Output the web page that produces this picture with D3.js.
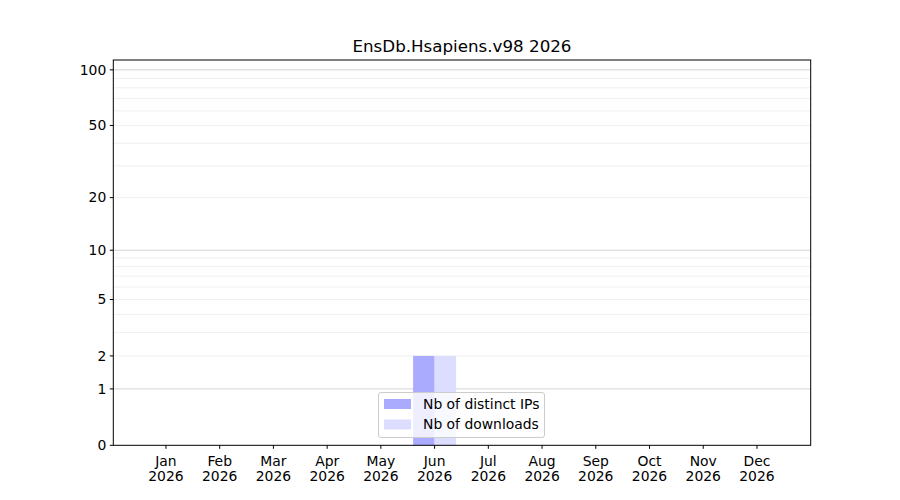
<!DOCTYPE html>
<html><head><meta charset="utf-8">
<script src="https://cdn.jsdelivr.net/npm/d3@7"></script>
<style>body{margin:0;background:#fff}svg{display:block}text{font-family:"DejaVu Sans",sans-serif}</style>
</head><body><svg id="c" width="900" height="500"></svg>
<script>
const title = "EnsDb.Hsapiens.v98 2026";
const months = ["Jan","Feb","Mar","Apr","May","Jun","Jul","Aug","Sep","Oct","Nov","Dec"];
const year = "2026";
const distinctIPs = [0,0,0,0,0,2,0,0,0,0,0,0];
const downloads = [0,0,0,0,0,2,0,0,0,0,0,0];
const yTicks = [0,1,2,5,10,20,50,100];
const yMinor = [3,4,6,7,8,9,30,40,60,70,80,90];
const yMajorGrid = [1,10,100];
const seriesNames = ["Nb of distinct IPs","Nb of downloads"];
const colors = ["#aaaaff","#ddddff"];

const svg = d3.select("#c");
const L=113.3, R=810.7, T=60, B=445.3;
const x = d3.scaleLinear().domain([-0.98,12.0]).range([L,R]);
const t = v => Math.log10(1+v);
const yl = d3.scaleLinear().domain([0,2.057]).range([B,T]);
const y = v => yl(t(v));
const fs = "13.9px";

// grid
svg.append("g").selectAll("line").data(yMinor.concat([2,5,20,50])).join("line")
  .attr("x1",L).attr("x2",R).attr("y1",d=>y(d)).attr("y2",d=>y(d))
  .attr("stroke","#ebebeb").attr("stroke-width",0.8);
svg.append("g").selectAll("line").data(yMajorGrid).join("line")
  .attr("x1",L).attr("x2",R).attr("y1",d=>y(d)).attr("y2",d=>y(d))
  .attr("stroke","#c8c8c8").attr("stroke-width",0.8);

const bw = 0.4;
svg.append("g").selectAll("rect").data(distinctIPs).join("rect")
  .attr("x",(d,i)=>x(i-bw)).attr("width",(d,i)=>x(i)-x(i-bw))
  .attr("y",d=>y(d)).attr("height",d=>B-y(d)).attr("fill",colors[0]);
svg.append("g").selectAll("rect").data(downloads).join("rect")
  .attr("x",(d,i)=>x(i)).attr("width",(d,i)=>x(i+bw)-x(i))
  .attr("y",d=>y(d)).attr("height",d=>B-y(d)).attr("fill",colors[1]);

// frame
svg.append("rect").attr("x",L).attr("y",T).attr("width",R-L).attr("height",B-T)
  .attr("fill","none").attr("stroke","#000").attr("stroke-width",1);

// y axis
const ya = svg.append("g");
yTicks.forEach(v=>{
  ya.append("line").attr("x1",L-3.5).attr("x2",L).attr("y1",y(v)).attr("y2",y(v)).attr("stroke","#000");
  ya.append("text").attr("x",L-7).attr("y",y(v)).attr("dy","0.35em").attr("text-anchor","end")
    .attr("font-size",fs).text(v);
});
// x axis
const xa = svg.append("g");
months.forEach((m,i)=>{
  xa.append("line").attr("x1",x(i)).attr("x2",x(i)).attr("y1",B).attr("y2",B+3.5).attr("stroke","#000");
  xa.append("text").attr("x",x(i)).attr("y",B+21).attr("text-anchor","middle").attr("font-size",fs).text(m);
  xa.append("text").attr("x",x(i)).attr("y",B+36).attr("text-anchor","middle").attr("font-size",fs).text(year);
});

svg.append("text").attr("x",(L+R)/2).attr("y",T-8).attr("text-anchor","middle").attr("font-size","16.7px").text(title);

// legend
const lg = svg.append("g");
lg.append("rect").attr("x",378.5).attr("y",392.5).attr("width",166).attr("height",45).attr("rx",2.5)
  .attr("fill","#fff").attr("fill-opacity",0.8).attr("stroke","#cccccc");
seriesNames.forEach((n,i)=>{
  lg.append("rect").attr("x",384).attr("y",399+i*20.5).attr("width",27).attr("height",10).attr("fill",colors[i]);
  lg.append("text").attr("x",423).attr("y",404+i*20.5).attr("dy","0.35em").attr("font-size",fs).text(n);
});
</script></body></html>
